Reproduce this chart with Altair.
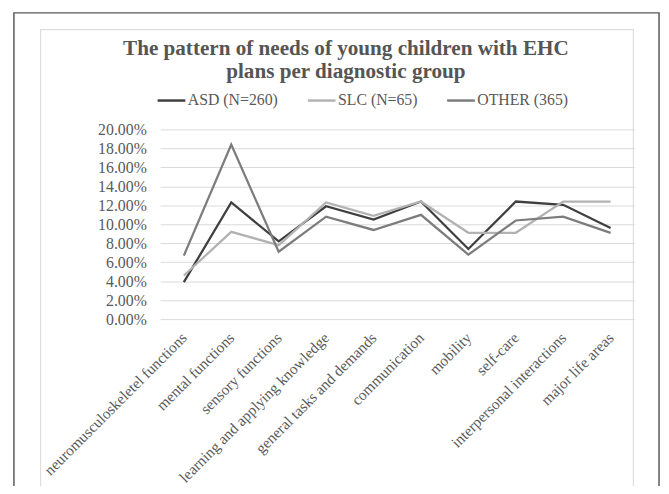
import altair as alt
import pandas as pd

categories = [
    "neuromusculoskeletel functions",
    "mental functions",
    "sensory functions",
    "learning and applying knowledge",
    "general tasks and demands",
    "communication",
    "mobility",
    "self-care",
    "interpersonal interactions",
    "major life areas",
]
series_names = ["ASD (N=260)", "SLC (N=65)", "OTHER (365)"]
asd = [3.9, 12.3, 8.2, 11.9, 10.5, 12.4, 7.4, 12.4, 12.05, 9.6]
slc = [4.6, 9.2, 7.8, 12.3, 10.9, 12.4, 9.1, 9.1, 12.4, 12.4]
other = [6.7, 18.4, 7.1, 10.8, 9.4, 11.0, 6.8, 10.4, 10.8, 9.1]
y_ticks = [0, 0.02, 0.04, 0.06, 0.08, 0.10, 0.12, 0.14, 0.16, 0.18, 0.20]
colors = ["#3f3f3f", "#b2b2b2", "#7c7c7c"]

rows = []
for name, vals in zip(series_names, [asd, slc, other]):
    for i, (c, v) in enumerate(zip(categories, vals)):
        rows.append({"category": c, "series": name, "value": v / 100, "order": i})
df = pd.DataFrame(rows)

FONT = "Liberation Serif"
TXT = "#595959"

frame_data = alt.Data(values=[{"k": 1}])
outer = alt.Chart(frame_data).mark_rect(fill="transparent", stroke="#5a5a5a", strokeWidth=1.5).encode(
    x=alt.value(-148), x2=alt.value(505), y=alt.value(-118), y2=alt.value(400)
)
inner = alt.Chart(frame_data).mark_rect(fill="transparent", stroke="#dedede", strokeWidth=1.2).encode(
    x=alt.value(-121), x2=alt.value(479), y=alt.value(-101), y2=alt.value(400)
)

lines = alt.Chart(df).mark_line(strokeWidth=2.3).encode(
    x=alt.X(
        "category:N",
        sort=categories,
        title=None,
        axis=alt.Axis(
            labelAngle=-45,
            labelAlign="right",
            labelBaseline="middle",
            labelPadding=16,
            labelFont=FONT,
            labelFontSize=15.5,
            labelColor=TXT,
            ticks=False,
            domain=False,
            grid=False,
            labelLimit=400,
        ),
    ),
    y=alt.Y(
        "value:Q",
        scale=alt.Scale(domain=[0, 0.2], nice=False),
        title=None,
        axis=alt.Axis(
            values=y_ticks,
            format=".2%",
            labelFont=FONT,
            labelFontSize=16,
            labelColor=TXT,
            labelPadding=14,
            ticks=False,
            domain=False,
            grid=True,
            gridColor="#d9d9d9",
            gridWidth=1,
        ),
    ),
    color=alt.Color(
        "series:N",
        sort=series_names,
        scale=alt.Scale(domain=series_names, range=colors),
        legend=alt.Legend(
            title=None,
            orient="none",
            direction="horizontal",
            legendX=-4,
            legendY=-45,
            symbolType="stroke",
            symbolSize=784,
            symbolStrokeWidth=2.5,
            labelFont=FONT,
            labelFontSize=16,
            labelColor=TXT,
            labelOffset=1,
            columnPadding=24,
            padding=0,
        ),
    ),
    detail="series:N",
    order="order:Q",
)

chart = alt.layer(outer, inner, lines).properties(
    width=480,
    height=192,
    autosize=alt.AutoSizeParams(type="none"),
    padding={"left": 154, "top": 120, "right": 27, "bottom": 166},
    title=alt.TitleParams(
        text=["The pattern of needs of young children with EHC", "plans per diagnostic group"],
        font=FONT,
        fontSize=21.4,
        fontWeight="bold",
        color="#555555",
        anchor="middle",
        frame="group",
        dx=-52,
        offset=-71,
        lineHeight=23,
    ),
).configure_view(stroke=None)

chart.save("out.html", embed_options={"renderer": "svg", "actions": False})
